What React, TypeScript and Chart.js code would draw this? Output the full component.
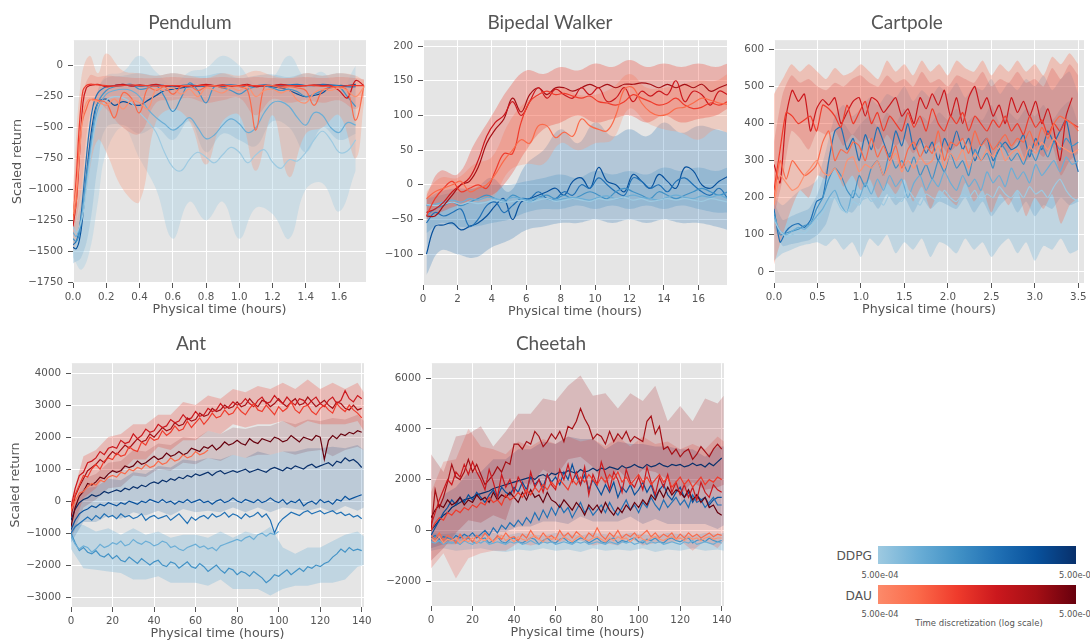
import React, { useEffect, useRef } from 'react';
import { Chart, registerables } from 'chart.js';

Chart.register(...registerables);

// ---------- palettes ----------
const BLUES = ['#9ecae1', '#6baed6', '#4292c6', '#2171b5', '#08519c', '#08306b'];
const REDS = ['#fc9272', '#fb6a4a', '#ef3b2c', '#cb181d', '#a50f15', '#67000d'];

const X_LABEL = 'Physical time (hours)';
const Y_LABEL = 'Scaled return';

const seq = (start: number, step: number, n: number) =>
  Array.from({ length: n }, (_, i) => +(start + step * i).toFixed(3));

// ---------- Pendulum ----------
const PEND_X = [0, 0.02, 0.04, 0.06, 0.08, 0.1, 0.12, 0.15, 0.2, 0.25, 0.3, 0.35, 0.4, 0.45, 0.5, 0.55, 0.6, 0.65, 0.7, 0.75, 0.8, 0.85, 0.9, 0.95, 1.0, 1.05, 1.1, 1.15, 1.2, 1.25, 1.3, 1.35, 1.4, 1.45, 1.5, 1.55, 1.6, 1.65, 1.7, 1.75];
const PEND_XTICKS = [0, 0.2, 0.4, 0.6, 0.8, 1.0, 1.2, 1.4, 1.6];
const PEND_YTICKS = [-1750, -1500, -1250, -1000, -750, -500, -250, 0];
const PEND_DDPG_1 = [-1300, -1350, -1300, -1200, -1000, -800, -600, -400, -280, -250, -260, -300, -380, -450, -540, -700, -820, -850, -760, -700, -740, -785, -720, -660, -700, -785, -720, -680, -780, -830, -760, -771, -700, -600, -530, -600, -700, -690, -600];
const PEND_DDPG_2 = [-1350, -1380, -1300, -1150, -950, -750, -550, -350, -230, -200, -190, -200, -250, -350, -420, -470, -520, -480, -420, -500, -590, -560, -480, -430, -470, -540, -500, -380, -300, -290, -330, -420, -480, -380, -400, -500, -540, -460, -480];
const PEND_DDPG_3 = [-1400, -1420, -1350, -1150, -900, -700, -500, -300, -200, -170, -160, -150, -190, -180, -160, -250, -370, -260, -140, -200, -300, -170, -180, -200, -230, -190, -170, -160, -180, -200, -190, -210, -250, -230, -200, -170, -170, -250, -330];
const PEND_DDPG_4 = [-1450, -1420, -1300, -1050, -750, -500, -330, -220, -170, -160, -150, -160, -165, -160, -155, -160, -170, -160, -155, -160, -165, -160, -160, -155, -160, -165, -160, -155, -160, -160, -155, -150, -160, -160, -150, -155, -160, -170, -170];
const PEND_DDPG_5 = [-1470, -1480, -1400, -1200, -900, -650, -450, -300, -270, -320, -290, -310, -320, -280, -240, -200, -190, -180, -170, -165, -160, -160, -165, -160, -160, -160, -160, -165, -170, -180, -200, -230, -250, -240, -220, -170, -160, -160, -150];
const PEND_DAU_1 = [-1200, -1000, -700, -400, -300, -270, -280, -290, -320, -270, -350, -280, -300, -350, -190, -200, -180, -230, -190, -250, -180, -200, -220, -180, -200, -170, -250, -200, -190, -220, -200, -280, -300, -220, -190, -200, -180, -200, -250, -170];
const PEND_DAU_2 = [-1250, -1100, -600, -430, -350, -280, -270, -280, -300, -420, -220, -260, -380, -180, -200, -170, -230, -170, -160, -200, -170, -160, -180, -160, -170, -200, -520, -170, -160, -180, -170, -180, -200, -320, -200, -180, -170, -200, -440, -160];
const PEND_DAU_3 = [-1250, -900, -450, -200, -160, -150, -150, -155, -160, -165, -160, -155, -160, -160, -165, -160, -160, -160, -165, -160, -160, -165, -160, -160, -160, -160, -160, -160, -160, -165, -160, -160, -160, -160, -165, -165, -170, -160, -160, -160];
const PEND_DAU_4 = [-1300, -1100, -700, -300, -180, -160, -155, -150, -170, -160, -150, -165, -155, -160, -150, -165, -160, -170, -160, -160, -150, -160, -155, -165, -160, -150, -170, -160, -160, -150, -160, -165, -160, -155, -160, -160, -200, -260, -120, -160];
const PEND_BX_DDPG = [0, 0.05, 0.1, 0.15, 0.2, 0.3, 0.4, 0.5, 0.6, 0.7, 0.8, 0.9, 1.0, 1.1, 1.2, 1.3, 1.4, 1.5, 1.6, 1.7];
const PEND_BX_DAU = [0, 0.05, 0.1, 0.15, 0.2, 0.3, 0.4, 0.5, 0.6, 0.7, 0.8, 0.9, 1.0, 1.1, 1.2, 1.3, 1.4, 1.5, 1.6, 1.7, 1.75];
const PEND_DDPG_HI1 = [-1200, -1000, -500, -200, -80, -50, 80, -50, -150, -50, -20, 80, 0, -150, -100, 80, -100, -50, -200, 0];
const PEND_DDPG_LO1 = [-1550, -1650, -1500, -1100, -700, -500, -750, -1000, -1400, -1100, -1250, -1100, -1400, -1150, -1200, -1400, -1000, -950, -1180, -850];
const PEND_DDPG_HI2 = [-1350, -1100, -600, -200, -100, -80, -60, -80, -60, -80, -80, -60, -100, -80, -70, -90, -60, -80, -60, -80];
const PEND_DDPG_LO2 = [-1600, -1550, -1300, -800, -500, -480, -550, -500, -600, -450, -700, -550, -600, -650, -450, -500, -700, -500, -600, -550];
const PEND_DAU_HI1 = [-1000, -100, 80, -60, 100, -40, -60, -80, -60, -80, -100, -60, -80, -40, -80, -100, -60, -80, -60, -80, -120];
const PEND_DAU_LO1 = [-1500, -1300, -850, -600, -700, -1000, -1100, -450, -350, -450, -800, -450, -400, -850, -400, -900, -550, -500, -400, -750, -300];
const PEND_DAU_HI2 = [-1100, -300, -80, -90, -80, -90, -100, -100, -90, -100, -100, -90, -100, -90, -100, -100, -90, -100, -90, -100, -110];
const PEND_DAU_LO2 = [-1400, -1000, -400, -300, -350, -500, -550, -300, -280, -260, -300, -280, -260, -400, -270, -300, -280, -300, -280, -350, -240];

// ---------- Bipedal Walker ----------
const BIP_X = seq(0.2, 0.5, 36);
const BIP_XTICKS = [0, 2, 4, 6, 8, 10, 12, 14, 16];
const BIP_YTICKS = [-100, -50, 0, 50, 100, 150, 200];
const BIP_DDPG_1 = [-28, -30, -28, -25, -28, -25, -27, -25, -22, -25, -24, -22, -25, -22, -20, -24, -22, -20, -22, -24, -20, -22, -20, -18, -22, -20, -24, -22, -20, -22, -20, -22, -24, -20, -22, -25];
const BIP_DDPG_2 = [-30, -28, -25, -22, -25, -20, -22, -18, -20, -22, -18, -20, -22, -18, -20, -22, -20, -18, -20, -22, -18, -16, -20, -18, -15, -18, -20, -22, -18, -15, -18, -20, -16, -18, -15, -20];
const BIP_DDPG_3 = [-45, -35, -30, -25, -30, -25, -20, -15, -20, -25, -15, -20, -25, -18, -15, -20, -15, -20, -15, -10, -15, -20, -10, -5, -10, -15, -20, -10, -15, -20, -15, -10, -5, -10, -15, -10];
const BIP_DDPG_4 = [-55, -40, -45, -40, -35, -60, -50, -30, -25, -40, -30, -20, -20, -10, -20, -20, -10, -15, 0, -5, 10, 0, -10, -15, 10, 5, -5, 0, -10, 5, 10, 0, -10, -15, -5, -20];
const BIP_DDPG_5 = [-100, -60, -58, -55, -65, -60, -55, -45, -30, -20, -50, -25, -20, -15, -10, -5, -15, 5, 10, -5, 25, 5, 0, -10, 15, 5, -5, 15, 5, -5, 25, 20, 0, -5, 5, 12];
const BIP_DAU_1 = [-20, -10, -5, 0, 5, -10, -5, 0, 15, 35, 50, 65, 60, 85, 85, 68, 76, 70, 95, 85, 80, 78, 100, 138, 140, 118, 105, 100, 102, 110, 112, 118, 125, 122, 118, 116];
const BIP_DAU_2 = [-45, -20, -5, 5, -10, -5, 0, -5, 20, 45, 45, 90, 120, 130, 135, 130, 132, 128, 125, 128, 120, 118, 115, 120, 130, 125, 120, 115, 118, 125, 115, 110, 112, 118, 115, 120];
const BIP_DAU_3 = [-40, -35, -25, -10, 0, 10, 35, 70, 90, 100, 120, 100, 120, 140, 125, 138, 130, 125, 140, 130, 140, 120, 125, 140, 120, 135, 128, 135, 130, 150, 120, 135, 130, 115, 135, 130];
const BIP_DAU_4 = [-45, -45, -30, -15, 0, 5, 25, 60, 80, 95, 125, 105, 130, 140, 130, 140, 140, 135, 140, 145, 140, 145, 140, 145, 145, 147, 145, 140, 145, 140, 145, 140, 145, 135, 140, 145];
const BIP_BX = [0.2, 1, 2, 3, 4, 5, 6, 7, 8, 9, 10, 11, 12, 13, 14, 15, 16, 17, 17.7];
const BIP_DAU_HI1 = [-15, 20, 15, 60, 100, 140, 165, 160, 170, 165, 175, 170, 180, 170, 175, 170, 175, 170, 175];
const BIP_DAU_LO1 = [-50, -40, -30, -20, -15, 10, 50, 80, 90, 100, 90, 95, 100, 90, 100, 90, 95, 100, 110];
const BIP_DAU_HI2 = [-10, 10, 10, 30, 40, 90, 120, 130, 140, 130, 130, 140, 160, 140, 140, 145, 150, 150, 160];
const BIP_DAU_LO2 = [-40, -35, -30, -25, -20, 20, 30, 30, 60, 50, 60, 65, 110, 90, 80, 75, 65, 80, 75];
const BIP_DDPG_HI1 = [-20, -10, -5, -5, 10, -10, 30, 50, 80, 60, 90, 70, 80, 70, 90, 75, 85, 80, 75];
const BIP_DDPG_LO1 = [-130, -95, -100, -105, -90, -80, -65, -60, -55, -55, -50, -55, -50, -55, -50, -55, -55, -60, -65];
const BIP_DDPG_HI2 = [-20, -15, -10, -5, 0, 0, 5, 10, 15, 10, 20, 15, 20, 15, 25, 20, 25, 20, 25];
const BIP_DDPG_LO2 = [-70, -55, -60, -60, -55, -50, -40, -35, -35, -30, -35, -30, -35, -30, -35, -30, -35, -40, -40];

// ---------- Cartpole ----------
const CART_X = seq(0, 0.07, 51);
const CART_XTICKS = [0, 0.5, 1.0, 1.5, 2.0, 2.5, 3.0, 3.5];
const CART_YTICKS = [0, 100, 200, 300, 400, 500, 600];
const CART_DDPG_1 = [140, 110, 95, 100, 110, 105, 120, 140, 160, 190, 200, 170, 160, 190, 180, 210, 190, 200, 180, 210, 200, 190, 220, 200, 180, 210, 200, 190, 220, 200, 190, 210, 200, 220, 190, 210, 200, 230, 210, 200, 220, 200, 230, 210, 220, 200, 230, 250, 220, 200, 190];
const CART_DDPG_2 = [150, 110, 100, 110, 120, 115, 130, 150, 170, 200, 220, 180, 160, 220, 200, 240, 210, 250, 220, 260, 230, 250, 200, 240, 260, 220, 250, 230, 270, 240, 220, 260, 230, 250, 220, 270, 240, 260, 230, 280, 250, 270, 240, 290, 260, 280, 300, 270, 310, 290, 300];
const CART_DDPG_3 = [160, 100, 105, 110, 115, 125, 130, 170, 200, 250, 280, 260, 220, 200, 260, 230, 280, 300, 260, 320, 280, 300, 270, 310, 260, 290, 250, 300, 270, 320, 280, 300, 260, 330, 300, 320, 280, 350, 330, 300, 320, 290, 330, 300, 340, 310, 350, 330, 360, 340, 350];
const CART_DDPG_4 = [170, 80, 110, 125, 130, 120, 140, 190, 200, 300, 380, 390, 330, 360, 300, 370, 330, 390, 350, 310, 380, 340, 400, 330, 360, 320, 350, 300, 360, 330, 380, 330, 360, 300, 340, 360, 300, 330, 350, 330, 340, 370, 310, 360, 330, 380, 350, 380, 410, 330, 270];
const CART_DAU_1 = [180, 260, 240, 220, 230, 260, 280, 300, 270, 260, 280, 250, 300, 310, 270, 290, 280, 300, 260, 290, 320, 270, 300, 280, 310, 290, 300, 340, 280, 320, 300, 330, 280, 320, 300, 330, 310, 340, 300, 320, 330, 300, 340, 320, 350, 330, 360, 340, 330, 320, 330];
const CART_DAU_2 = [200, 300, 250, 300, 280, 260, 270, 290, 350, 380, 300, 330, 320, 350, 340, 300, 360, 310, 340, 300, 340, 280, 330, 350, 310, 340, 320, 380, 300, 350, 340, 360, 320, 380, 340, 360, 330, 350, 370, 340, 360, 350, 380, 340, 390, 360, 400, 420, 410, 400, 380];
const CART_DAU_3 = [220, 330, 430, 420, 400, 410, 420, 380, 450, 440, 420, 390, 450, 400, 430, 460, 400, 430, 380, 420, 400, 380, 430, 390, 420, 380, 440, 400, 380, 420, 400, 430, 380, 420, 400, 380, 410, 390, 420, 380, 400, 370, 420, 390, 410, 370, 400, 380, 410, 400, 390];
const CART_DAU_4 = [290, 240, 420, 490, 460, 480, 380, 440, 465, 450, 470, 400, 430, 460, 470, 420, 470, 460, 430, 450, 470, 420, 440, 400, 470, 440, 480, 450, 490, 420, 470, 400, 470, 500, 440, 470, 420, 450, 400, 470, 430, 460, 420, 460, 400, 440, 380, 300, 420, 470];
const CART_BX = seq(0, 0.1, 36);
const CART_DAU_HI1 = [480, 520, 560, 540, 560, 540, 520, 550, 530, 540, 560, 540, 520, 570, 540, 560, 530, 570, 540, 560, 530, 570, 550, 540, 570, 530, 560, 540, 570, 540, 560, 530, 580, 560, 590, 560];
const CART_DAU_LO1 = [20, 100, 170, 220, 200, 260, 250, 280, 230, 260, 220, 250, 200, 240, 210, 250, 190, 230, 170, 220, 200, 180, 240, 190, 220, 160, 210, 180, 220, 150, 200, 170, 210, 130, 180, 200];
const CART_DAU_HI2 = [350, 480, 530, 510, 520, 500, 490, 510, 500, 520, 530, 510, 500, 530, 510, 520, 500, 540, 510, 520, 500, 530, 520, 510, 540, 500, 520, 510, 540, 510, 520, 500, 550, 520, 560, 530];
const CART_DAU_LO2 = [150, 250, 380, 360, 330, 380, 370, 380, 340, 370, 350, 360, 330, 370, 340, 360, 320, 350, 330, 350, 320, 340, 360, 320, 350, 310, 340, 320, 350, 300, 330, 310, 340, 260, 300, 320];
const CART_DDPG_HI1 = [200, 180, 200, 220, 230, 250, 330, 420, 450, 420, 440, 470, 450, 480, 470, 500, 460, 490, 470, 500, 480, 510, 470, 500, 490, 520, 480, 510, 490, 520, 500, 530, 490, 520, 540, 480];
const CART_DDPG_LO1 = [30, 50, 60, 70, 75, 80, 70, 90, 60, 80, 40, 90, 70, 100, 50, 80, 60, 90, 40, 80, 70, 50, 90, 60, 80, 40, 70, 90, 50, 80, 30, 70, 60, 90, 50, 60];
const CART_DDPG_HI2 = [190, 140, 150, 160, 170, 210, 280, 380, 400, 370, 400, 420, 390, 430, 400, 440, 390, 420, 400, 430, 410, 440, 400, 420, 410, 450, 400, 430, 410, 440, 420, 450, 410, 440, 460, 400];
const CART_DDPG_LO2 = [120, 70, 75, 80, 85, 100, 130, 200, 170, 160, 190, 200, 170, 210, 180, 200, 160, 200, 170, 190, 180, 170, 200, 160, 190, 150, 180, 200, 160, 190, 150, 180, 170, 200, 180, 190];

// ---------- Ant ----------
const ANT_X = seq(0, 2, 71);
const ANT_XTICKS = [0, 20, 40, 60, 80, 100, 120, 140];
const ANT_YTICKS = [-3000, -2000, -1000, 0, 1000, 2000, 3000, 4000];
const ANT_DDPG_2 = [-1100, -1350, -1500, -1400, -1450, -1600, -1500, -1350, -1450, -1400, -1300, -1350, -1250, -1400, -1350, -1200, -1300, -1350, -1250, -1300, -1400, -1350, -1250, -1300, -1450, -1400, -1500, -1550, -1450, -1400, -1350, -1450, -1400, -1500, -1450, -1550, -1400, -1350, -1300, -1250, -1200, -1250, -1150, -1100, -1200, -1050, -1000, -1100, -1000, -1050, -950];
const ANT_DDPG_3 = [-1000, -1300, -1550, -1450, -1600, -1650, -1550, -1700, -1750, -1650, -1800, -1700, -1850, -1900, -1750, -1850, -1950, -1800, -1900, -2000, -1900, -1850, -2000, -2050, -1900, -1950, -2100, -2000, -1900, -2050, -2100, -1950, -2050, -2200, -2100, -2000, -2150, -2250, -2100, -2150, -2300, -2200, -2250, -2350, -2200, -2300, -2400, -2550, -2450, -2300, -2350, -2250, -2150, -2300, -2200, -2100, -2200, -2050, -2100, -2000, -2050, -1950, -1900, -1750, -1650, -1500, -1600, -1450, -1550, -1500, -1550];
const ANT_DDPG_4 = [-1000, -800, -700, -600, -500, -600, -450, -550, -400, -500, -450, -550, -400, -500, -450, -550, -500, -400, -600, -500, -450, -550, -500, -450, -600, -500, -400, -550, -700, -500, -600, -500, -450, -550, -400, -500, -450, -350, -500, -400, -450, -550, -400, -500, -450, -350, -500, -400, -600, -1000, -700, -550, -450, -350, -400, -450, -350, -300, -400, -350, -300, -400, -350, -300, -400, -350, -450, -400, -500, -450, -550];
const ANT_DDPG_5 = [-900, -600, -400, -300, -250, -150, -200, -100, -150, -50, -100, -150, -50, -100, 0, -50, -100, 0, -50, 50, 0, -50, 50, -50, 0, -100, 0, -50, 50, -50, 0, 50, -50, 0, -100, 0, 50, -50, 0, 100, 0, -50, 50, 0, -50, 50, -50, 0, 100, 0, -50, 50, -100, 0, -50, 50, -150, -50, 0, -100, 50, -50, 0, -100, 50, 0, 150, 50, 100, 150, 200];
const ANT_DDPG_6 = [-600, -250, -50, 50, 100, 200, 150, 200, 300, 250, 300, 350, 300, 400, 350, 450, 400, 500, 450, 550, 600, 550, 650, 600, 700, 650, 750, 700, 800, 750, 850, 800, 850, 900, 800, 900, 950, 850, 900, 950, 900, 950, 1000, 900, 950, 1000, 950, 900, 1000, 1050, 1000, 950, 1050, 1000, 1100, 1050, 1000, 1100, 1150, 1050, 1100, 1150, 1200, 1100, 1250, 1200, 1350, 1250, 1300, 1200, 1050];
const ANT_DAU_2 = [-300, 0, 250, 300, 450, 550, 500, 650, 600, 750, 800, 750, 900, 850, 1000, 950, 1050, 1000, 1150, 1050, 1100, 1250, 1150, 1200, 1350, 1250, 1300, 1450, 1350, 1400, 1550, 1450, 1500, 1600];
const ANT_DAU_3 = [-300, 200, 500, 800, 750, 1000, 1150, 1000, 1250, 1350, 1300, 1500, 1400, 1450, 1700, 1600, 1550, 1850, 1750, 2000, 1900, 1950, 2200, 2050, 2150, 2350, 2200, 2250, 2500, 2300, 2450, 2600, 2400, 2550, 2750, 2600, 2650, 2850, 2700, 2750, 2950, 2800, 2700, 2900, 3050, 2850, 2800, 3000, 2850, 2700, 2950, 2800, 2900, 3100, 2850, 2750, 2950, 3000, 2800, 2700, 2900, 3000, 2850, 2750, 3050, 2900, 2800, 3000, 2850, 2750, 2600];
const ANT_DAU_4 = [-200, 400, 800, 900, 1200, 1250, 1350, 1550, 1450, 1650, 1700, 1650, 1900, 1800, 1850, 2100, 1950, 2050, 2250, 2150, 2200, 2400, 2300, 2350, 2550, 2450, 2500, 2700, 2550, 2600, 2800, 2650, 2700, 2900, 2800, 2850, 3050, 2900, 2950, 3100, 3000, 3050, 3200, 3050, 2950, 3150, 3250, 3050, 3100, 3300, 3150, 3050, 3250, 3100, 3000, 3200, 3150, 3000, 3150, 3250, 3050, 2950, 3150, 3250, 3050, 3150, 3450, 3200, 3100, 3300, 3200];
const ANT_DAU_5 = [-500, 150, 450, 700, 950, 1050, 1150, 1300, 1200, 1400, 1550, 1450, 1600, 1750, 1650, 1800, 1950, 1850, 1900, 2100, 2000, 2150, 2300, 2200, 2250, 2450, 2350, 2400, 2600, 2500, 2550, 2750, 2650, 2700, 2900, 2800, 2850, 3000, 2900, 2950, 3100, 2950, 3000, 3200, 3050, 2950, 3150, 3100, 2950, 3050, 3200, 3050, 2950, 3100, 3200, 3000, 3050, 3250, 3100, 2950, 3050, 3150, 3000, 2900, 3100, 3050, 2900, 2850, 3000, 2850, 2900];
const ANT_DAU_6 = [-800, -200, 150, 300, 550, 500, 600, 750, 700, 850, 950, 900, 950, 1100, 1050, 1100, 1250, 1150, 1200, 1300, 1400, 1300, 1350, 1500, 1400, 1450, 1550, 1450, 1500, 1650, 1600, 1550, 1700, 1650, 1750, 1600, 1700, 1850, 1750, 1800, 1900, 1800, 1750, 1950, 1850, 1800, 1950, 1900, 1850, 2000, 1950, 1850, 1900, 2050, 1950, 1850, 2000, 1950, 1900, 2050, 2000, 1300, 1900, 2050, 1950, 2100, 2050, 2150, 2100, 2200, 2150];
const ANT_BX = [...seq(0, 6, 24), 141];
const ANT_DAU_HI1 = [0, 1400, 1600, 2000, 2100, 2400, 2400, 2700, 2700, 3100, 3000, 3300, 3200, 3500, 3400, 3600, 3500, 3700, 3500, 3800, 3500, 3700, 3500, 3700, 3400];
const ANT_DAU_LO1 = [-1000, 100, 400, 900, 900, 1300, 1300, 1700, 1600, 1900, 1900, 2200, 2100, 2400, 2300, 2400, 2400, 2500, 2300, 2500, 2400, 2400, 2400, 2500, 2200];
const ANT_DAU_HI2 = [-400, 700, 850, 1200, 1250, 1600, 1550, 1800, 1750, 2000, 1950, 2200, 2100, 2300, 2250, 2350, 2350, 2500, 2400, 2550, 2500, 2600, 2550, 2700, 2500];
const ANT_DAU_LO2 = [-1200, -200, 50, 400, 450, 800, 750, 1000, 950, 1200, 1150, 1350, 1250, 1450, 1350, 1450, 1450, 1550, 1450, 1550, 1600, 1400, 1600, 1700, 1600];
const ANT_DDPG_HI1 = [-300, 400, 450, 700, 650, 900, 850, 1100, 1050, 1300, 1250, 1350, 1300, 1450, 1350, 1550, 1450, 1550, 1550, 1650, 1650, 1700, 1650, 1750, 1600];
const ANT_DDPG_LO1 = [-1300, -650, -650, -450, -550, -350, -450, -300, -450, -250, -350, -300, -350, -200, -350, -200, -350, -200, -250, -300, -200, -350, -150, -300, -200];
const ANT_DDPG_HI2 = [-700, -750, -950, -850, -1050, -850, -1050, -950, -1150, -1050, -1050, -1150, -950, -1150, -950, -1050, -800, -1450, -1650, -1450, -1450, -1250, -1050, -950, -1100];
const ANT_DDPG_LO2 = [-1500, -2100, -2150, -2200, -2250, -2450, -2450, -2350, -2550, -2550, -2550, -2650, -2450, -2750, -2750, -2750, -2950, -2750, -2650, -2650, -2550, -2550, -2450, -2050, -2000];

// ---------- Cheetah ----------
const CHE_X = seq(0, 2, 71);
const CHE_XTICKS = [0, 20, 40, 60, 80, 100, 120, 140];
const CHE_YTICKS = [-2000, 0, 2000, 4000, 6000];
const CHE_DDPG_2 = [-450, -500, -400, -550, -450, -500, -450, -550, -400, -500, -550, -450, -500, -400, -550, -500, -450, -500, -550, -450, -500, -450, -550, -500, -400, -500, -550, -450, -500, -450, -550, -500, -450, -500, -550, -450, -500, -450, -550, -500, -450, -500, -550, -450, -500, -550, -450, -500, -450, -550, -500, -400, -550, -450, -500, -450, -550, -500, -450, -500, -550, -450, -500, -400, -550, -500, -450, -500, -550, -450, -500];
const CHE_DDPG_3 = [-400, -250, -450, -500, -350, -300, -450, -550, -400, -300, -450, -500, -350, -300, -500, -400, -250, -450, -500, -350, -300, -450, -500, -400, -300, -350, -550, -400, -300, -450, -500, -350, -300, -450, -500, -400, -300, -350, -500, -400, -300, -450, -500, -350, -300, -500, -400, -450, -350, -300, -450, -500, -350, -400, -300, -450, -500, -350, -300, -400, -450, -350, -300, -500, -400, -350, -450, -300, -400, -450, -400];
const CHE_DDPG_4 = [-300, -200, -350, -250, -300, -400, -200, -300, -150, -250, -100, -300, -150, 0, -200, 100, -100, 200, 50, 300, 150, 400, 200, 500, 300, 700, 400, 800, 500, 900, 600, 1000, 700, 900, 500, 800, 1100, 700, 900, 600, 800, 1000, 700, 1100, 800, 600, 900, 1200, 800, 1000, 700, 1100, 900, 1300, 1000, 800, 1200, 900, 1100, 1300, 1000, 1200, 900, 1400, 1100, 1200, 900, 1100, 1300, 1000, 1000];
const CHE_DDPG_5 = [-200, 100, 400, 700, 900, 1200, 1000, 1300, 1100, 1400, 1200, 1500, 1300, 1100, 1400, 1600, 1300, 1700, 1500, 1400, 1700, 1500, 1900, 1600, 2100, 1800, 2000, 1700, 2200, 1900, 2100, 1800, 2300, 2000, 2600, 2100, 1800, 2200, 1600, 2000, 1700, 1400, 1800, 1500, 1900, 1300, 1700, 1500, 1800, 1400, 1600, 1900, 1500, 1800, 1300, 1600, 1800, 1400, 1200, 1500, 1700, 1300, 1500, 1100, 1400, 1200, 1300, 1000, 1200, 1300, 1300];
const CHE_DDPG_6 = [0, 200, 400, 600, 700, 900, 1000, 1100, 1200, 1250, 1300, 1400, 1450, 1500, 1550, 1650, 1700, 1750, 1800, 1850, 1900, 1950, 2000, 2050, 2100, 2000, 2150, 2200, 2100, 2250, 2200, 2300, 2250, 2350, 2300, 2250, 2400, 2300, 2350, 2450, 2350, 2450, 2400, 2500, 2450, 2400, 2550, 2450, 2500, 2600, 2500, 2450, 2600, 2500, 2550, 2650, 2550, 2500, 2600, 2550, 2600, 2500, 2550, 2650, 2550, 2600, 2500, 2650, 2550, 2700, 2850];
const CHE_DAU_1 = [-300, -450, -250, -500, -350, -400, -300, -500, -350, -450, -300, -500, -350, -400, -250, -450, -300, -200, -400, -300, -450, -250, -350, -400, -300, -200, -350, -450, -250, -350, -300, -400, -250, -350, -450, -300, -200, -350, -400, -300, -250, -350, -450, -300, -400, -250, -350, -300, -450, -300, -200, -350, -400, -300, -250, -350, -400, -300, -250, -350, -300, -400, -250, -350, -300, -400, -300, -250, -350, -300, -300];
const CHE_DAU_2 = [-200, -350, -100, -400, -200, -300, -500, -150, -400, -250, -450, -200, -350, -100, -300, -450, -200, -350, -100, -300, -250, -400, -150, -300, 0, -250, -350, -100, -300, -200, -350, 0, -250, -100, -300, -50, -200, -350, -100, -250, 100, -200, -350, -100, -250, 0, -300, -150, -250, -100, -300, -150, 0, -250, -100, -300, -150, -250, -100, -350, -150, -300, -100, -250, -150, -300, -200, -100, -250, -150, -200];
const CHE_DAU_3 = [0, 300, 500, 400, 700, 600, 800, 700, 900, 800, 1000, 900, 1100, 1000, 1300, 1100, 1200, 1000, 1400, 1200, 1300, 1500, 1300, 1600, 1400, 1700, 1500, 1800, 1600, 1900, 1700, 2000, 1800, 1600, 2000, 1800, 2100, 1900, 2200, 2000, 1800, 2100, 1900, 2200, 2000, 2300, 1900, 2100, 1800, 2000, 2200, 1900, 2100, 1800, 2000, 2200, 1900, 2100, 1700, 1900, 2100, 1800, 2000, 1700, 1900, 2100, 1800, 2000, 1900, 2100, 2000];
const CHE_DAU_4 = [200, 700, 1200, 1600, 2000, 1800, 2300, 2100, 2600, 2200, 2700, 2300, 2000, 1600, 2400, 1900, 1300, 2200, 1700, 2000, 1500, 2100, 1800, 1400, 2300, 1700, 2000, 1500, 2200, 1800, 1600, 2400, 2000, 2600, 1900, 2300, 1800, 2500, 1400, 2200, 1800, 2700, 2200, 1600, 2300, 2000, 1500, 2400, 1900, 1700, 2100, 1600, 2500, 1900, 1400, 2100, 1700, 2200, 1500, 1900, 1400, 1800, 1300, 1700, 1200, 1900, 1500, 1300, 1800, 1600, 1500];
const CHE_DAU_5 = [0, 1600, 900, 1300, 1900, 2600, 2100, 2000, 2300, 2800, 2300, 2600, 2200, 1800, 2000, 2200, 2500, 2300, 2700, 2600, 3400, 3400, 3200, 3500, 3400, 3900, 3700, 3300, 3500, 3800, 3600, 3900, 3500, 4100, 4000, 4300, 4800, 4400, 4100, 3600, 3800, 3700, 3400, 3900, 3500, 3800, 3600, 3900, 3500, 3700, 3600, 3500, 4300, 4500, 3800, 4100, 3200, 3300, 3000, 3200, 2900, 3100, 3200, 2800, 3000, 3300, 3100, 2900, 3200, 3400, 3200];
const CHE_DAU_6 = [500, 800, 1000, 900, 1200, 1000, 1100, 1300, 1000, 1200, 1100, 1400, 1200, 1300, 1100, 1500, 1200, 1400, 1300, 1500, 1300, 1100, 1500, 1200, 1600, 1300, 1400, 1100, 1500, 1200, 1100, 900, 1200, 1000, 800, 1100, 900, 600, 1000, 800, 1000, 700, 1100, 800, 600, 900, 700, 1000, 800, 1100, 900, 1200, 1000, 1400, 1200, 1600, 1300, 1700, 1400, 1600, 1500, 1300, 1600, 1200, 1400, 1100, 1300, 900, 1000, 700, 600];
const CHE_BX = [...seq(0, 6, 24), 141];
const CHE_DAU_HI1 = [3000, 2300, 3700, 3800, 4100, 3300, 3900, 4600, 4600, 5200, 5100, 5700, 6100, 5300, 5400, 4800, 5400, 5100, 5700, 4300, 4900, 4300, 5200, 5000, 5300];
const CHE_DAU_LO1 = [-1200, -700, -100, 400, 300, 600, 400, 1900, 1800, 2400, 2100, 2800, 2900, 2500, 1800, 2400, 1900, 2400, 2300, 2000, 1400, 1900, 1600, 1700, 1800];
const CHE_DAU_HI2 = [1500, 2700, 2800, 4000, 3300, 3200, 3000, 3500, 3300, 3600, 3400, 3700, 3500, 3600, 3300, 3700, 3300, 3700, 3400, 3500, 3200, 3400, 3200, 3700, 3500];
const CHE_DAU_LO2 = [-1500, -900, -1900, -1100, -900, -800, -800, -500, -600, -500, -500, -400, -400, -600, -500, -600, -300, -600, -500, -500, -400, -800, -400, -700, -400];
const CHE_DDPG_HI1 = [300, 1400, 1700, 2300, 2300, 2800, 2800, 3200, 3200, 3500, 3400, 3700, 3600, 3600, 3200, 3500, 3400, 3400, 3300, 3300, 3200, 3200, 2900, 3300, 3300];
const CHE_DDPG_LO1 = [-700, -550, -550, -250, -250, -50, -50, 150, 150, 350, 350, 250, 550, 350, 350, 350, 550, 250, 450, 250, 250, 250, 250, 50, 200];
const CHE_DDPG_HI2 = [-100, -150, -100, -200, -150, -100, -200, -100, -150, -200, -100, -150, -200, -100, -150, -200, -100, -150, -200, -100, -150, -200, -100, -150, -100];
const CHE_DDPG_LO2 = [-800, -700, -800, -750, -700, -800, -850, -750, -800, -700, -800, -750, -850, -700, -800, -750, -800, -700, -850, -750, -800, -700, -800, -750, -800];

// ---------- colorbar legend ----------
const CBAR_TICKS = ['5.00e-04', '5.00e-02'];
const CBAR_NAMES = ['DDPG', 'DAU'];
const CBAR_LABEL = 'Time discretization (log scale)';

// ---------- helpers ----------
const rgba = (hex: string, a: number) => {
  const n = parseInt(hex.slice(1), 16);
  return `rgba(${n >> 16},${(n >> 8) & 255},${n & 255},${a})`;
};
const fmt = (v: number, dec: number) => {
  const s = Math.abs(v).toFixed(dec);
  return v < 0 ? '\u2212' + s : s;
};
const L = (x: number[], y: number[], color: string) => ({ x: x.slice(0, y.length), y, color });
const B = (x: number[], hi: number[], lo: number[], color: string, alpha: number) => ({ x, hi, lo, color, alpha });

const TEXT = '#555555';
const FONT = "'DejaVu Sans', sans-serif";

const bgPlugin = {
  id: 'ggbg',
  beforeDraw(chart: any) {
    const { ctx, chartArea } = chart;
    if (!chartArea) return;
    ctx.save();
    ctx.fillStyle = '#E5E5E5';
    ctx.fillRect(chartArea.left, chartArea.top, chartArea.right - chartArea.left, chartArea.bottom - chartArea.top);
    ctx.restore();
  },
};

function Panel({ def }: { def: any }) {
  const ref = useRef<HTMLCanvasElement | null>(null);
  useEffect(() => {
    const canvas = ref.current;
    if (!canvas) return;
    const datasets: any[] = [];
    def.lines.forEach((l: any) =>
      datasets.push({
        data: l.x.map((x: number, i: number) => ({ x, y: l.y[i] })),
        borderColor: l.color,
        borderWidth: 1.2,
        pointRadius: 0,
        fill: false,
        order: 1,
        tension: def.tension,
      })
    );
    def.bands.forEach((b: any) => {
      datasets.push({
        data: b.x.map((x: number, i: number) => ({ x, y: b.hi[i] })),
        borderColor: 'rgba(0,0,0,0)',
        borderWidth: 0,
        pointRadius: 0,
        fill: false,
        order: 2,
        tension: def.bandTension,
      });
      datasets.push({
        data: b.x.map((x: number, i: number) => ({ x, y: b.lo[i] })),
        borderColor: 'rgba(0,0,0,0)',
        borderWidth: 0,
        pointRadius: 0,
        fill: '-1',
        backgroundColor: rgba(b.color, b.alpha),
        order: 2,
        tension: def.bandTension,
      });
    });
    const grid = { color: '#ffffff', lineWidth: 1, tickColor: TEXT, tickLength: 5, tickWidth: 1, drawTicks: true };
    const chart = new Chart(canvas, {
      type: 'line',
      data: { datasets },
      options: {
        responsive: false,
        animation: false,
        devicePixelRatio: 1,
        events: [],
        layout: { padding: { left: 0, right: def.padRight, top: 10, bottom: 0 } },
        plugins: { legend: { display: false }, tooltip: { enabled: false }, title: { display: false } },
        scales: {
          x: {
            type: 'linear',
            min: def.xMin,
            max: def.xMax,
            afterBuildTicks: (s: any) => { s.ticks = def.xTicks.map((v: number) => ({ value: v })); },
            afterFit: (s: any) => { s.height = 37; },
            ticks: { color: TEXT, font: { family: FONT, size: 10.3 }, padding: 3, maxRotation: 0, autoSkip: false, callback: (v: any) => fmt(Number(v), def.xDec) },
            grid,
            border: { display: false },
            title: { display: true, text: X_LABEL, color: TEXT, font: { family: FONT, size: 12.7 }, padding: { top: 0, bottom: 3 } },
          },
          y: {
            type: 'linear',
            min: def.yMin,
            max: def.yMax,
            afterBuildTicks: (s: any) => { s.ticks = def.yTicks.map((v: number) => ({ value: v })); },
            afterFit: (s: any) => { s.width = def.yAxisW; },
            ticks: { color: TEXT, font: { family: FONT, size: 10.3 }, padding: 5, autoSkip: false, callback: (v: any) => fmt(Number(v), 0) },
            grid,
            border: { display: false },
            title: { display: def.yTitle, text: Y_LABEL, color: TEXT, font: { family: FONT, size: 12.7 }, padding: { top: def.yTitlePad, bottom: 0 } },
          },
        },
      } as any,
      plugins: [bgPlugin],
    });
    return () => chart.destroy();
  }, []);
  return (
    <canvas
      ref={ref}
      width={def.width}
      height={def.height}
      style={{ position: 'absolute', left: def.left, top: def.top, width: def.width, height: def.height }}
    />
  );
}

const textStyle = (x: number, y: number, size: number, family: string, anchor: 'center' | 'right' | 'left'): React.CSSProperties => ({
  position: 'absolute',
  left: x,
  top: y,
  fontSize: size,
  lineHeight: 1,
  fontFamily: family,
  color: TEXT,
  whiteSpace: 'nowrap',
  transform: `translate(${anchor === 'center' ? '-50%' : anchor === 'right' ? '-100%' : '0'}, -50%)`,
});

export default function App() {
  useEffect(() => {
    document.body.style.margin = '0';
  }, []);

  const panels = [
    {
      title: 'Pendulum', titleX: 190, titleY: 21,
      left: 0, top: 29, width: 380, height: 291, yAxisW: 73, padRight: 14,
      xMin: 0, xMax: 1.762, yMin: -1758, yMax: 207, xTicks: PEND_XTICKS, yTicks: PEND_YTICKS, xDec: 1,
      yTitle: true, yTitlePad: 10, tension: 0.4, bandTension: 0.4,
      lines: [
        L(PEND_X, PEND_DAU_1, REDS[0]), L(PEND_X, PEND_DAU_2, REDS[1]), L(PEND_X, PEND_DAU_3, REDS[2]), L(PEND_X, PEND_DAU_4, REDS[3]),
        L(PEND_X, PEND_DDPG_1, BLUES[0]), L(PEND_X, PEND_DDPG_2, BLUES[1]), L(PEND_X, PEND_DDPG_3, BLUES[2]), L(PEND_X, PEND_DDPG_4, BLUES[3]), L(PEND_X, PEND_DDPG_5, BLUES[4]),
      ],
      bands: [
        B(PEND_BX_DAU, PEND_DAU_HI1, PEND_DAU_LO1, REDS[0], 0.3), B(PEND_BX_DAU, PEND_DAU_HI2, PEND_DAU_LO2, REDS[2], 0.2),
        B(PEND_BX_DDPG, PEND_DDPG_HI1, PEND_DDPG_LO1, BLUES[0], 0.35), B(PEND_BX_DDPG, PEND_DDPG_HI2, PEND_DDPG_LO2, BLUES[2], 0.22),
      ],
    },
    {
      title: 'Bipedal Walker', titleX: 550, titleY: 21,
      left: 373, top: 29, width: 362, height: 293, yAxisW: 50, padRight: 8,
      xMin: 0, xMax: 17.66, yMin: -144.5, yMax: 208.6, xTicks: BIP_XTICKS, yTicks: BIP_YTICKS, xDec: 0,
      yTitle: false, yTitlePad: 0, tension: 0.4, bandTension: 0.4,
      lines: [
        L(BIP_X, BIP_DAU_1, REDS[1]), L(BIP_X, BIP_DAU_2, REDS[2]), L(BIP_X, BIP_DAU_3, REDS[3]), L(BIP_X, BIP_DAU_4, REDS[4]),
        L(BIP_X, BIP_DDPG_1, BLUES[0]), L(BIP_X, BIP_DDPG_2, BLUES[1]), L(BIP_X, BIP_DDPG_3, BLUES[2]), L(BIP_X, BIP_DDPG_4, BLUES[3]), L(BIP_X, BIP_DDPG_5, BLUES[4]),
      ],
      bands: [
        B(BIP_BX, BIP_DAU_HI1, BIP_DAU_LO1, REDS[2], 0.3), B(BIP_BX, BIP_DAU_HI2, BIP_DAU_LO2, REDS[0], 0.3),
        B(BIP_BX, BIP_DDPG_HI1, BIP_DDPG_LO1, BLUES[3], 0.25), B(BIP_BX, BIP_DDPG_HI2, BIP_DDPG_LO2, BLUES[2], 0.25),
      ],
    },
    {
      title: 'Cartpole', titleX: 907, titleY: 21,
      left: 730, top: 29, width: 360, height: 291, yAxisW: 44, padRight: 6,
      xMin: 0, xMax: 3.566, yMin: -30, yMax: 625, xTicks: CART_XTICKS, yTicks: CART_YTICKS, xDec: 1,
      yTitle: false, yTitlePad: 0, tension: 0.2, bandTension: 0.2,
      lines: [
        L(CART_X, CART_DAU_1, REDS[0]), L(CART_X, CART_DAU_2, REDS[1]), L(CART_X, CART_DAU_3, REDS[2]), L(CART_X, CART_DAU_4, REDS[3]),
        L(CART_X, CART_DDPG_1, BLUES[0]), L(CART_X, CART_DDPG_2, BLUES[1]), L(CART_X, CART_DDPG_3, BLUES[2]), L(CART_X, CART_DDPG_4, BLUES[3]),
      ],
      bands: [
        B(CART_BX, CART_DAU_HI1, CART_DAU_LO1, REDS[1], 0.3), B(CART_BX, CART_DAU_HI2, CART_DAU_LO2, REDS[3], 0.2),
        B(CART_BX, CART_DDPG_HI1, CART_DDPG_LO1, BLUES[1], 0.3), B(CART_BX, CART_DDPG_HI2, CART_DDPG_LO2, BLUES[3], 0.2),
      ],
    },
    {
      title: 'Ant', titleX: 191, titleY: 341.5,
      left: 0, top: 352, width: 380, height: 292, yAxisW: 71, padRight: 16,
      xMin: 0, xMax: 141.1, yMin: -3311, yMax: 4311, xTicks: ANT_XTICKS, yTicks: ANT_YTICKS, xDec: 0,
      yTitle: true, yTitlePad: 8, tension: 0, bandTension: 0,
      lines: [
        L(ANT_X, ANT_DAU_2, REDS[1]), L(ANT_X, ANT_DAU_3, REDS[2]), L(ANT_X, ANT_DAU_4, REDS[3]), L(ANT_X, ANT_DAU_5, REDS[4]), L(ANT_X, ANT_DAU_6, REDS[5]),
        L(ANT_X, ANT_DDPG_2, BLUES[1]), L(ANT_X, ANT_DDPG_3, BLUES[2]), L(ANT_X, ANT_DDPG_4, BLUES[3]), L(ANT_X, ANT_DDPG_5, BLUES[4]), L(ANT_X, ANT_DDPG_6, BLUES[5]),
      ],
      bands: [
        B(ANT_BX, ANT_DAU_HI1, ANT_DAU_LO1, REDS[2], 0.25), B(ANT_BX, ANT_DAU_HI2, ANT_DAU_LO2, REDS[5], 0.15),
        B(ANT_BX, ANT_DDPG_HI1, ANT_DDPG_LO1, BLUES[4], 0.18), B(ANT_BX, ANT_DDPG_HI2, ANT_DDPG_LO2, BLUES[1], 0.3),
      ],
    },
    {
      title: 'Cheetah', titleX: 551, titleY: 341.5,
      left: 373, top: 352, width: 365, height: 291, yAxisW: 58, padRight: 14,
      xMin: 0, xMax: 141.1, yMin: -2980, yMax: 6588, xTicks: CHE_XTICKS, yTicks: CHE_YTICKS, xDec: 0,
      yTitle: false, yTitlePad: 0, tension: 0, bandTension: 0,
      lines: [
        L(CHE_X, CHE_DAU_1, REDS[0]), L(CHE_X, CHE_DAU_2, REDS[1]), L(CHE_X, CHE_DAU_3, REDS[2]), L(CHE_X, CHE_DAU_4, REDS[3]), L(CHE_X, CHE_DAU_5, REDS[4]), L(CHE_X, CHE_DAU_6, REDS[5]),
        L(CHE_X, CHE_DDPG_2, BLUES[1]), L(CHE_X, CHE_DDPG_3, BLUES[2]), L(CHE_X, CHE_DDPG_4, BLUES[3]), L(CHE_X, CHE_DDPG_5, BLUES[4]), L(CHE_X, CHE_DDPG_6, BLUES[5]),
      ],
      bands: [
        B(CHE_BX, CHE_DAU_HI1, CHE_DAU_LO1, REDS[4], 0.2), B(CHE_BX, CHE_DAU_HI2, CHE_DAU_LO2, REDS[2], 0.2),
        B(CHE_BX, CHE_DDPG_HI1, CHE_DDPG_LO1, BLUES[4], 0.2), B(CHE_BX, CHE_DDPG_HI2, CHE_DDPG_LO2, BLUES[1], 0.3),
      ],
    },
  ];

  const TITLE_FONT = "Lato, 'Open Sans', sans-serif";
  const blueGrad = `linear-gradient(to right, ${BLUES.join(', ')})`;
  const redGrad = `linear-gradient(to right, #fc8a6a, ${REDS.slice(1).join(', ')})`;

  return (
    <div style={{ position: 'fixed', left: 0, top: 0, width: 1090, height: 640, overflow: 'hidden', background: '#ffffff' }}>
      {panels.map((p) => (
        <React.Fragment key={p.title}>
          <Panel def={p} />
          <div style={textStyle(p.titleX, p.titleY, 19, TITLE_FONT, 'center')}>{p.title}</div>
        </React.Fragment>
      ))}
      {/* colorbar legend */}
      <div style={textStyle(872, 556, 12.2, FONT, 'right')}>{CBAR_NAMES[0]}</div>
      <div style={{ position: 'absolute', left: 878, top: 546, width: 198, height: 18, background: blueGrad }} />
      <div style={textStyle(880, 575, 8.3, FONT, 'center')}>{CBAR_TICKS[0]}</div>
      <div style={textStyle(1059, 575, 8.3, FONT, 'left')}>{CBAR_TICKS[1]}</div>
      <div style={textStyle(872, 596, 12.2, FONT, 'right')}>{CBAR_NAMES[1]}</div>
      <div style={{ position: 'absolute', left: 878, top: 585, width: 198, height: 19, background: redGrad }} />
      <div style={textStyle(880, 614, 8.3, FONT, 'center')}>{CBAR_TICKS[0]}</div>
      <div style={textStyle(1059, 614, 8.3, FONT, 'left')}>{CBAR_TICKS[1]}</div>
      <div style={textStyle(979, 622.5, 8.5, FONT, 'center')}>{CBAR_LABEL}</div>
    </div>
  );
}
